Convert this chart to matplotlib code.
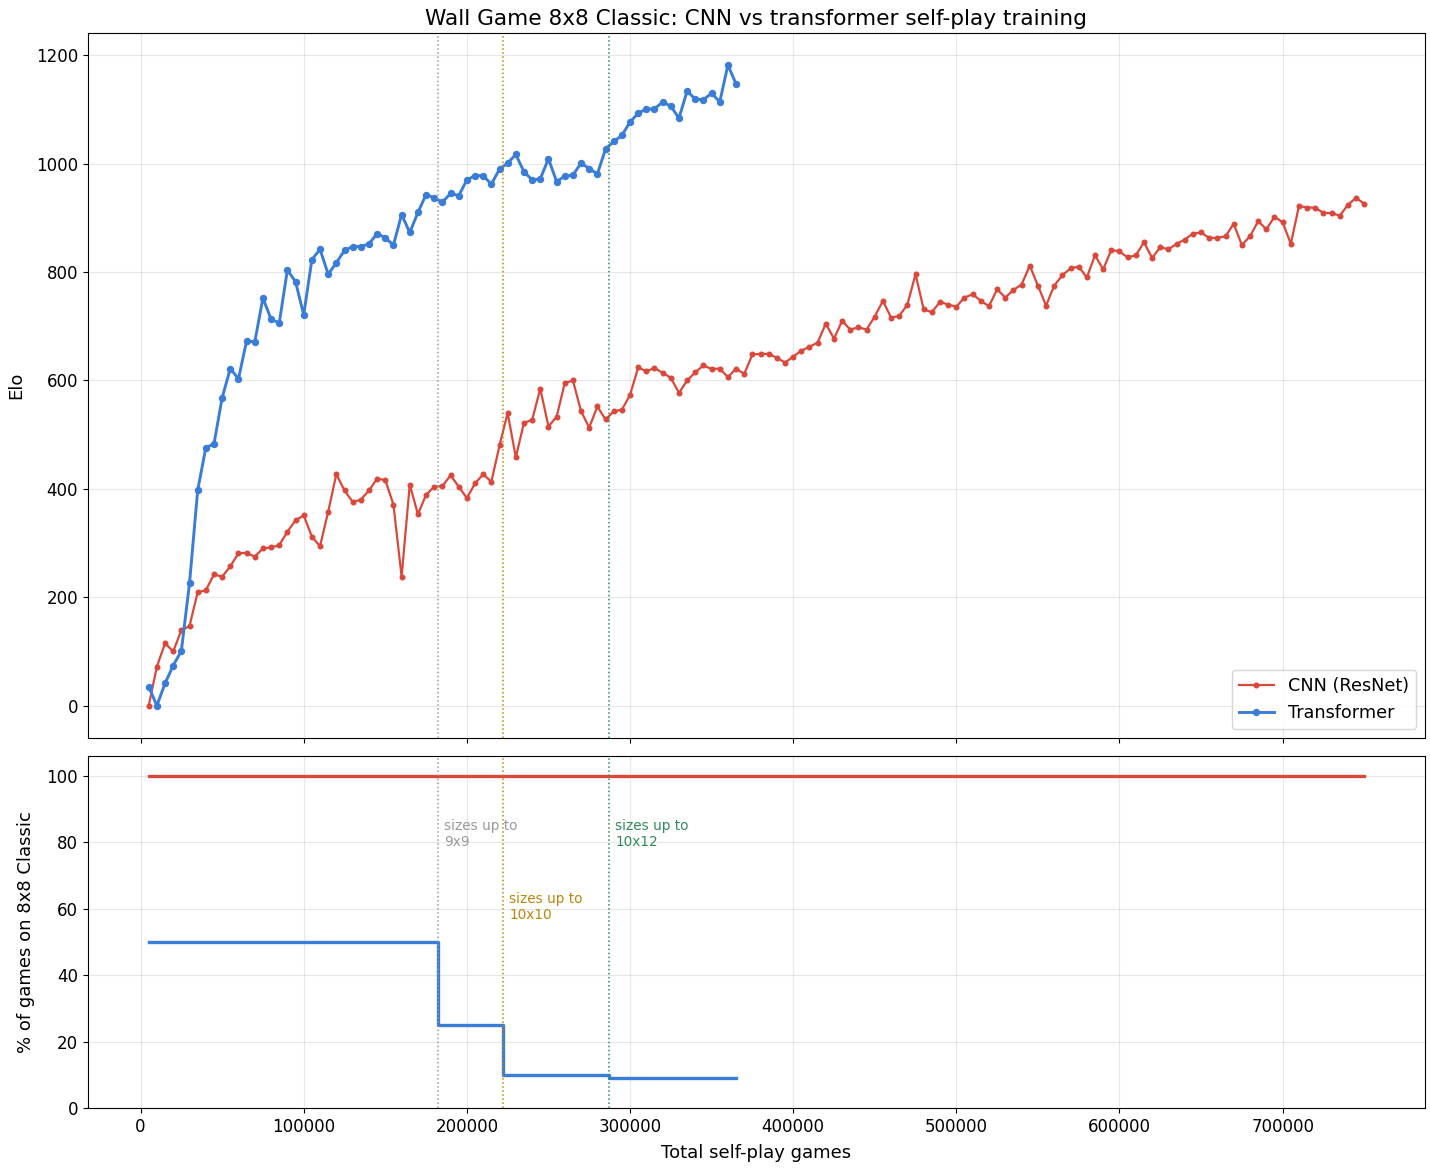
import matplotlib
matplotlib.use("Agg")
import matplotlib.pyplot as plt

# Elo per checkpoint, one checkpoint every 5000 self-play games
step = 5000

cnn_elo = [0, 72, 115, 100, 139, 147, 209, 213, 242, 238,
           257, 281, 282, 275, 290, 292, 296, 321, 342, 351,
           312, 294, 358, 427, 397, 376, 380, 397, 419, 416,
           371, 238, 408, 353, 389, 404, 405, 425, 404, 383,
           410, 427, 413, 480, 540, 458, 522, 527, 585, 515,
           533, 595, 600, 543, 513, 552, 528, 543, 546, 573,
           624, 617, 623, 614, 605, 577, 600, 615, 628, 621,
           622, 606, 622, 612, 648, 649, 649, 642, 633, 644,
           655, 662, 670, 705, 677, 710, 694, 698, 694, 718,
           747, 716, 719, 740, 796, 731, 726, 745, 740, 736,
           753, 759, 747, 737, 768, 753, 767, 777, 812, 775,
           738, 775, 794, 807, 810, 790, 831, 805, 841, 838,
           827, 831, 855, 826, 846, 842, 852, 860, 871, 873,
           863, 863, 866, 889, 850, 866, 894, 879, 902, 892,
           852, 922, 919, 919, 909, 909, 904, 924, 937, 926]

tr_elo = [35, 0, 41, 74, 101, 226, 397, 476, 483, 568,
          622, 603, 673, 671, 752, 713, 706, 804, 782, 721,
          823, 842, 796, 817, 840, 847, 847, 852, 871, 863,
          850, 906, 873, 910, 943, 937, 929, 945, 941, 970,
          978, 978, 962, 990, 1001, 1017, 985, 970, 972, 1009,
          967, 977, 979, 1001, 991, 981, 1027, 1041, 1052, 1077,
          1093, 1101, 1101, 1114, 1106, 1084, 1134, 1119, 1118, 1130,
          1114, 1182, 1147]

cnn_games = [step * (i + 1) for i in range(len(cnn_elo))]
tr_games = [step * (i + 1) for i in range(len(tr_elo))]

# curriculum changes for the transformer
phase_x = [182000, 222000, 287000]
phase_lbl = ["sizes up to\n9x9", "sizes up to\n10x10", "sizes up to\n10x12"]
phase_col = ["#999999", "#b8860b", "#2e8b57"]
phase_ty = [87, 65, 87]

# share of games on 8x8 Classic
cnn_pct_x = [5000, 750000]
cnn_pct = [100, 100]
tr_pct_x = [5000, 182000, 222000, 287000, 365000]
tr_pct = [50, 25, 10, 9.1, 9.1]

red = "#d9483b"
blue = "#3a7dd8"

fig, (ax1, ax2) = plt.subplots(2, 1, figsize=(14.3, 11.7), dpi=100, sharex=True,
                               gridspec_kw={"height_ratios": [2, 1]})
fig.subplots_adjust(left=0.0615, right=0.9965, top=0.9718, bottom=0.053, hspace=0.034)

ax1.plot(cnn_games, cnn_elo, "-o", color=red, lw=1.6, ms=3.3, label="CNN (ResNet)")
ax1.plot(tr_games, tr_elo, "-o", color=blue, lw=2.1, ms=4.3, label="Transformer")
for x, c in zip(phase_x, phase_col):
    ax1.axvline(x, color=c, ls=":", lw=1.1)
ax1.set_ylabel("Elo", fontsize=13, labelpad=8)
ax1.set_title("Wall Game 8x8 Classic: CNN vs transformer self-play training", fontsize=15.6)
ax1.grid(True, alpha=0.3)
ax1.legend(loc="lower right", fontsize=12.7)
ax1.tick_params(labelsize=12)

ax2.plot(cnn_pct_x, cnn_pct, color=red, lw=2.4)
ax2.step(tr_pct_x, tr_pct, where="post", color=blue, lw=2.4)
for x, c, t, ty in zip(phase_x, phase_col, phase_lbl, phase_ty):
    ax2.axvline(x, color=c, ls=":", lw=1.1)
    ax2.text(x + 4000, ty, t, color=c, fontsize=9.8, va="top", ha="left")
ax2.set_ylim(0, 106)
ax2.set_ylabel("% of games on 8x8 Classic", fontsize=13, labelpad=8)
ax2.set_xlabel("Total self-play games", fontsize=13, labelpad=6)
ax2.grid(True, alpha=0.3)
ax2.tick_params(labelsize=12)
ax2.ticklabel_format(axis="x", style="plain")

fig.savefig("out.png")
